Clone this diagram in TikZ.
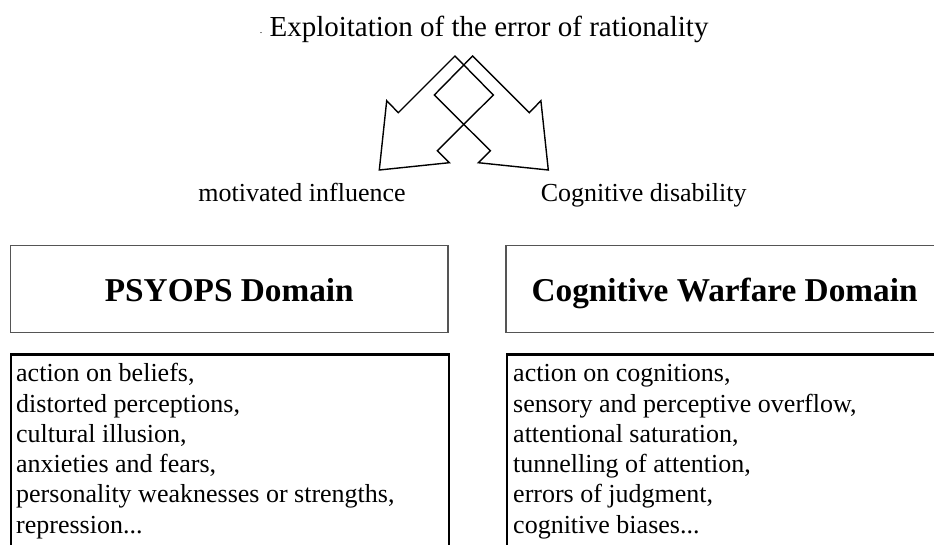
\documentclass[tikz,border=0pt]{standalone}
\usepackage{fontspec}
\setmainfont{Liberation Serif}
\usepackage{tikz}
\definecolor{framegray}{HTML}{555555}

\begin{document}
\begin{tikzpicture}[x=1pt,y=-1pt,
  arrowline/.style={draw=black, line width=1.4pt},
  domainbox/.style={draw=framegray, line width=1.3pt, minimum width=437.3pt, minimum height=87pt,
    text height=25.6pt, text depth=0pt, font=\fontsize{33.3}{40}\selectfont\bfseries},
  listbox/.style={draw=black, line width=2.2pt, minimum width=437.5pt, minimum height=210pt},
  listtext/.style={align=left, font=\fontsize{26}{30.3}\selectfont},
  branchtext/.style={font=\fontsize{26}{30}\selectfont}]
\tikzstyle{every node}+=[inner sep=0pt]
\useasboundingbox (0,0) rectangle (934,544);
\clip (0,0) rectangle (934,544);
% title and the crossed arrows
\node [anchor=base, font=\fontsize{29}{34}\selectfont] (title) at (489,36) {Exploitation of the error of rationality};
\node [anchor=base, font=\fontsize{10}{10}\selectfont] (dot) at (261,33.5) {.};
\coordinate (fork) at (463.8,0);
\foreach \side in {1,-1}
  \draw [arrowline, shift={(fork)}, xscale=\side] (-65.5,112.7) -- (-8.8,56) -- (29.5,95) -- (-26.5,150.7)
    -- (-14.5,162.7) -- (-84.5,170) -- (-77.1,100.7) -- cycle;
\node [branchtext, anchor=base] (motivated) at (302,201.5) {motivated influence};
\node [branchtext, anchor=base] (disability) at (643.7,201.5) {Cognitive disability};
% domain headers
\node [domainbox, anchor=north west] (psyops) at (10,244.7) {PSYOPS Domain};
\node [domainbox, anchor=north west] (cogwar) at (505.3,244.7) {Cognitive Warfare Domain};
% lists (base is the last line)
\node [listbox, anchor=north west] (psyopsbox) at (10,353.3) {};
\node [listbox, anchor=north west] (cogwarbox) at (505.5,353.3) {};
\node [listtext, anchor=base west] (psyopslist) at (16,533.2) {action on beliefs,\\distorted perceptions,\\cultural illusion,\\anxieties and fears,\\personality weaknesses or strengths,\\repression...};
\node [listtext, anchor=base west] (cogwarlist) at (513,533.2) {action on cognitions,\\sensory and perceptive overflow,\\attentional saturation,\\tunnelling of attention,\\errors of judgment,\\cognitive biases...};
\end{tikzpicture}
\end{document}
